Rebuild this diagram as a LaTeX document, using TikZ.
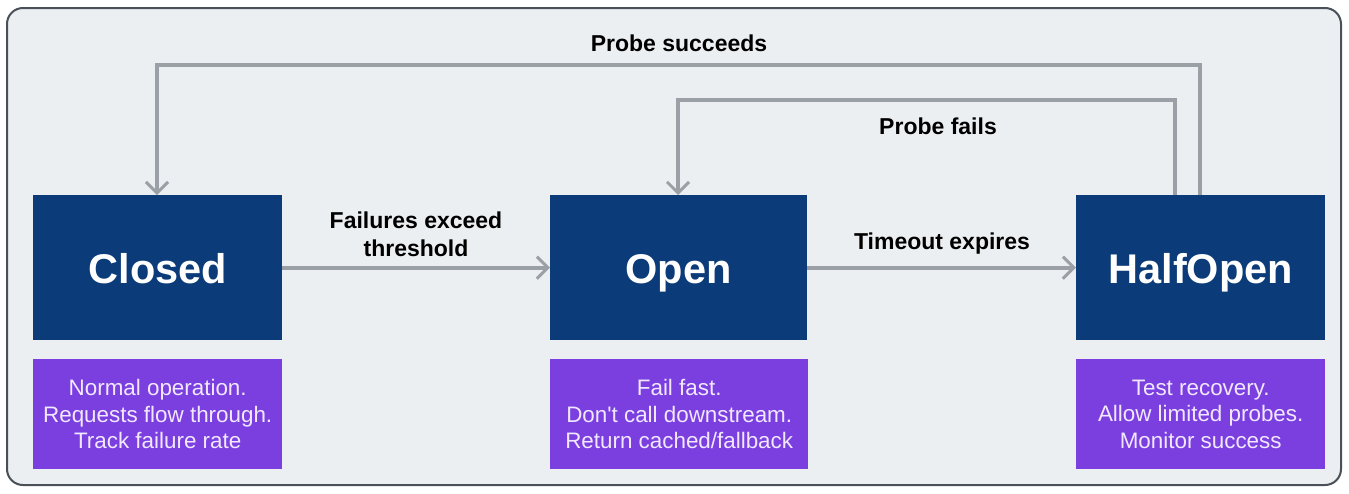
\documentclass[tikz,border=0pt]{standalone}
\usepackage{fontspec}
\setmainfont{Liberation Sans}
\usetikzlibrary{arrows.meta}
\definecolor{panelbg}{HTML}{ECEFF1}
\definecolor{panelrim}{HTML}{4A5058}
\definecolor{navy}{HTML}{0B3B78}
\definecolor{violet}{HTML}{7B3FE0}
\definecolor{lavtext}{HTML}{F1E8FF}
\definecolor{wire}{HTML}{9AA0A6}
\tikzset{
  statebox/.style={fill=navy, text=white, font=\fontsize{41.5}{46}\selectfont\bfseries,
    minimum width=249pt, minimum height=145pt, inner sep=0pt, anchor=north west,
    text height=31pt, text depth=0pt},
  notebox/.style={fill=violet, text=lavtext, font=\fontsize{22.4}{26.5}\selectfont,
    minimum width=249pt, minimum height=110pt, inner sep=0pt, anchor=north west,
    align=center},
  edgelabel/.style={font=\fontsize{23}{28}\selectfont\bfseries, text=black, align=center},
  flow/.style={draw=wire, line width=3.6pt, -{Straight Barb[length=11pt,width=22pt,line width=3pt]}},
}
\begin{document}
\begin{tikzpicture}[x=1pt,y=-1pt]
  \useasboundingbox (0,0) rectangle (1349,493);
  \fill[white] (0,0) rectangle (1349,493);
  \draw[fill=panelbg, draw=panelrim, line width=2pt, rounded corners=16pt] (7,8) rectangle (1341,485);

  % states
  \node[statebox] (closed) at (33,195) {Closed};
  \node[statebox, minimum width=257pt] (open) at (550,195) {Open};
  \node[statebox] (half) at (1076,195) {HalfOpen};

  % state descriptions
  \node[notebox] (nclosed) at (33,359) {Normal operation.\\Requests flow through.\\Track failure rate};
  \node[notebox, minimum width=258pt] (nopen) at (550,359) {Fail fast.\\Don\textquotesingle t call downstream.\\Return cached/fallback};
  \node[notebox] (nhalf) at (1076,359) {Test recovery.\\Allow limited probes.\\Monitor success};

  % corner points of the return loops
  \coordinate (sA) at (1200,65);
  \coordinate (sB) at (157,65);
  \coordinate (fA) at (1175,100);
  \coordinate (fB) at (678,100);

  % transitions
  \draw[flow] (closed.east) -- (open.west);
  \draw[flow] (open.east) -- (half.west);
  \draw[flow] (half.north -| sA) -- (sA) -- (sB) -- (closed.north -| sB);
  \draw[flow] (half.north -| fA) -- (fA) -- (fB) -- (open.north -| fB);

  % transition labels
  \node[edgelabel] (lfail) at (416,234) {Failures exceed\\threshold};
  \node[edgelabel] (ltime) at (942,244) {Timeout expires};
  \node[edgelabel] (lsucc) at (679,43) {Probe succeeds};
  \node[edgelabel] (lpf) at (938,126) {Probe fails};
\end{tikzpicture}
\end{document}
